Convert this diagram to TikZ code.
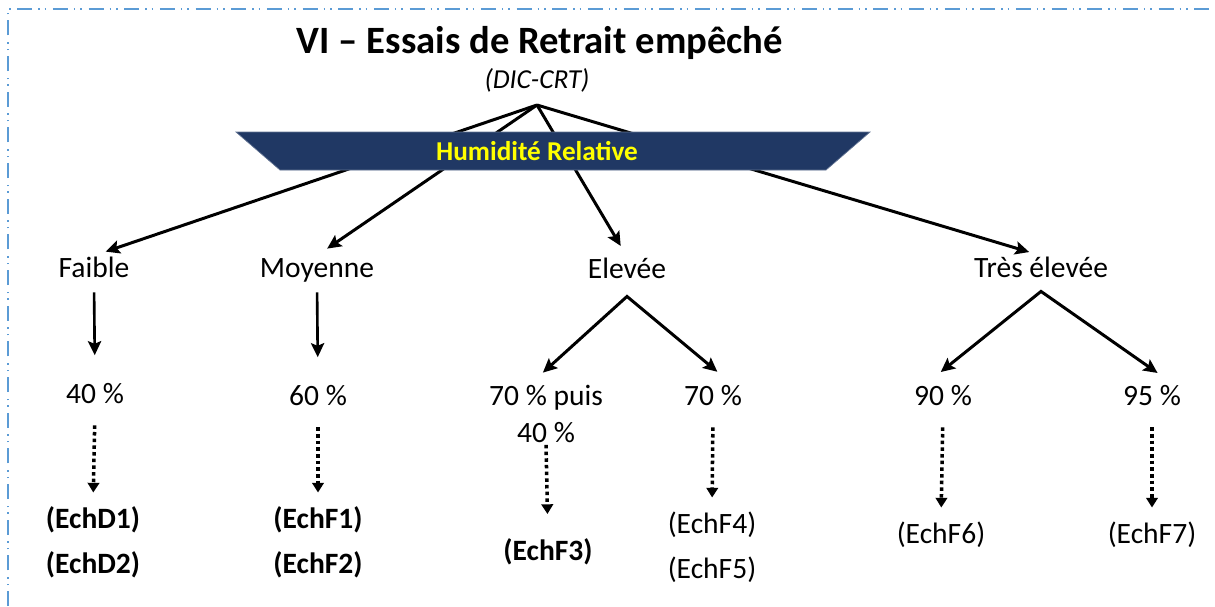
\documentclass[tikz,border=0pt]{standalone}
\usepackage{fontspec}
\setmainfont{Carlito}
\usepackage{tikz}
\usetikzlibrary{arrows.meta,positioning}
\definecolor{bannerblue}{RGB}{32,56,100}
\definecolor{frameblue}{RGB}{91,155,213}
\definecolor{hryellow}{RGB}{255,255,0}

\begin{document}
\begin{tikzpicture}[
    x=0.02cm, y=-0.02cm,
    lvl/.style={anchor=base, inner sep=0pt, text height=12pt, text depth=3.5pt, font=\fontsize{16.8}{20}\selectfont},
    echbold/.style={lvl, font=\fontsize{16.8}{20}\selectfont\bfseries},
    toparrow/.style={-{Stealth[length=8pt,width=7.5pt,inset=1.5pt]}, line width=1.7pt, shorten >=7pt},
    arrow/.style={-{Stealth[length=8pt,width=7.5pt,inset=1.5pt]}, line width=1.5pt, shorten <=5pt, shorten >=15pt},
    fork/.style={{Stealth[length=8pt,width=7.5pt,inset=1.5pt]}-{Stealth[length=8pt,width=7.5pt,inset=1.5pt]}, line width=1.7pt, shorten <=10.5pt, shorten >=10.5pt},
    dotarrow/.style={-{Triangle[length=5.5pt,width=6.5pt]}, line width=2pt, dash pattern=on 2pt off 1.8pt, shorten <=9pt, shorten >=8pt}
]
\useasboundingbox (0,0) rectangle (1215,606);
\draw[frameblue, line width=1.1pt, dash pattern=on 8.5pt off 3.4pt on 0.9pt off 2.8pt on 0.9pt off 3.8pt] (8,606) -- (8,9) -- (1215,9);

% titre
\node[anchor=base, inner sep=0pt, font=\fontsize{22}{26}\selectfont\bfseries] (titre) at (540,53) {VI – Essais de Retrait empêché};
\node[anchor=base, inner sep=0pt, font=\fontsize{15.6}{19}\selectfont\itshape] (dic) at (537,88) {(DIC-CRT)};
\coordinate (apex) at (537,105);

% humidite relative
\node[lvl] (faible) at (94,277) {Faible};
\node[lvl] (moyenne) at (317,277) {Moyenne};
\node[lvl] (elevee) at (627,278) {Elevée};
\node[lvl] (treselevee) at (1041,277) {Très élevée};

\draw[toparrow] (apex) -- (faible.north);
\draw[toparrow] (apex) -- (moyenne.north);
\draw[toparrow] (apex) -- (elevee.north);
\draw[toparrow] (apex) -- (treselevee.north);

\fill[bannerblue] (236,132) -- (870,132) -- (826,170) -- (280,170) -- cycle;
\draw[bannerblue!70!white, line width=0.4pt] (236,132) -- (870,132) -- (826,170) -- (280,170) -- cycle;
\node[inner sep=0pt, text=hryellow, font=\fontsize{15.5}{18}\selectfont\bfseries] (hr) at (537,151) {Humidité Relative};

% taux
\node[lvl] (h40) at (95,403) {40 \%};
\node[lvl] (h60) at (318,405) {60 \%};
\node[anchor=north, inner sep=0pt, align=center, font=\fontsize{16.8}{21}\selectfont] (h70p40) at (546,385) {70 \% puis\\40 \%};
\node[lvl] (h70) at (713,405) {70 \%};
\node[lvl] (h90) at (943,405) {90 \%};
\node[lvl] (h95) at (1152,405) {95 \%};

\draw[arrow] (faible.south) -- (h40.north);
\draw[arrow] (moyenne.south) -- (h60.north);
\draw[fork] (h70p40.120) -- ([yshift=-6.8pt]elevee.south) -- (h70.37);
\draw[fork] (h90.140) -- ([yshift=-4.5pt]treselevee.south) -- (h95.34);

% echantillons
\node[echbold] (d1) at (93,528) {(EchD1)};
\node[echbold, below=10pt of d1] (d2) {(EchD2)};
\node[echbold] (f1) at (318,528) {(EchF1)};
\node[echbold, below=10pt of f1] (f2) {(EchF2)};
\node[echbold] (f3) at (548,560) {(EchF3)};
\node[lvl] (f4) at (712,533) {(EchF4)};
\node[lvl, below=10pt of f4] (f5) {(EchF5)};
\node[lvl] (f6) at (941,543) {(EchF6)};
\node[lvl] (f7) at (1152,543) {(EchF7)};

\draw[dotarrow] (h40.south) -- (d1.north);
\draw[dotarrow] (h60.south) -- (f1.north);
\draw[dotarrow, shorten <=1pt, shorten >=14pt] (h70p40.south) -- (f3.north);
\draw[dotarrow] (h70.south) -- (f4.north);
\draw[dotarrow] (h90.south) -- (f6.north);
\draw[dotarrow] (h95.south) -- (f7.north);
\end{tikzpicture}
\end{document}
